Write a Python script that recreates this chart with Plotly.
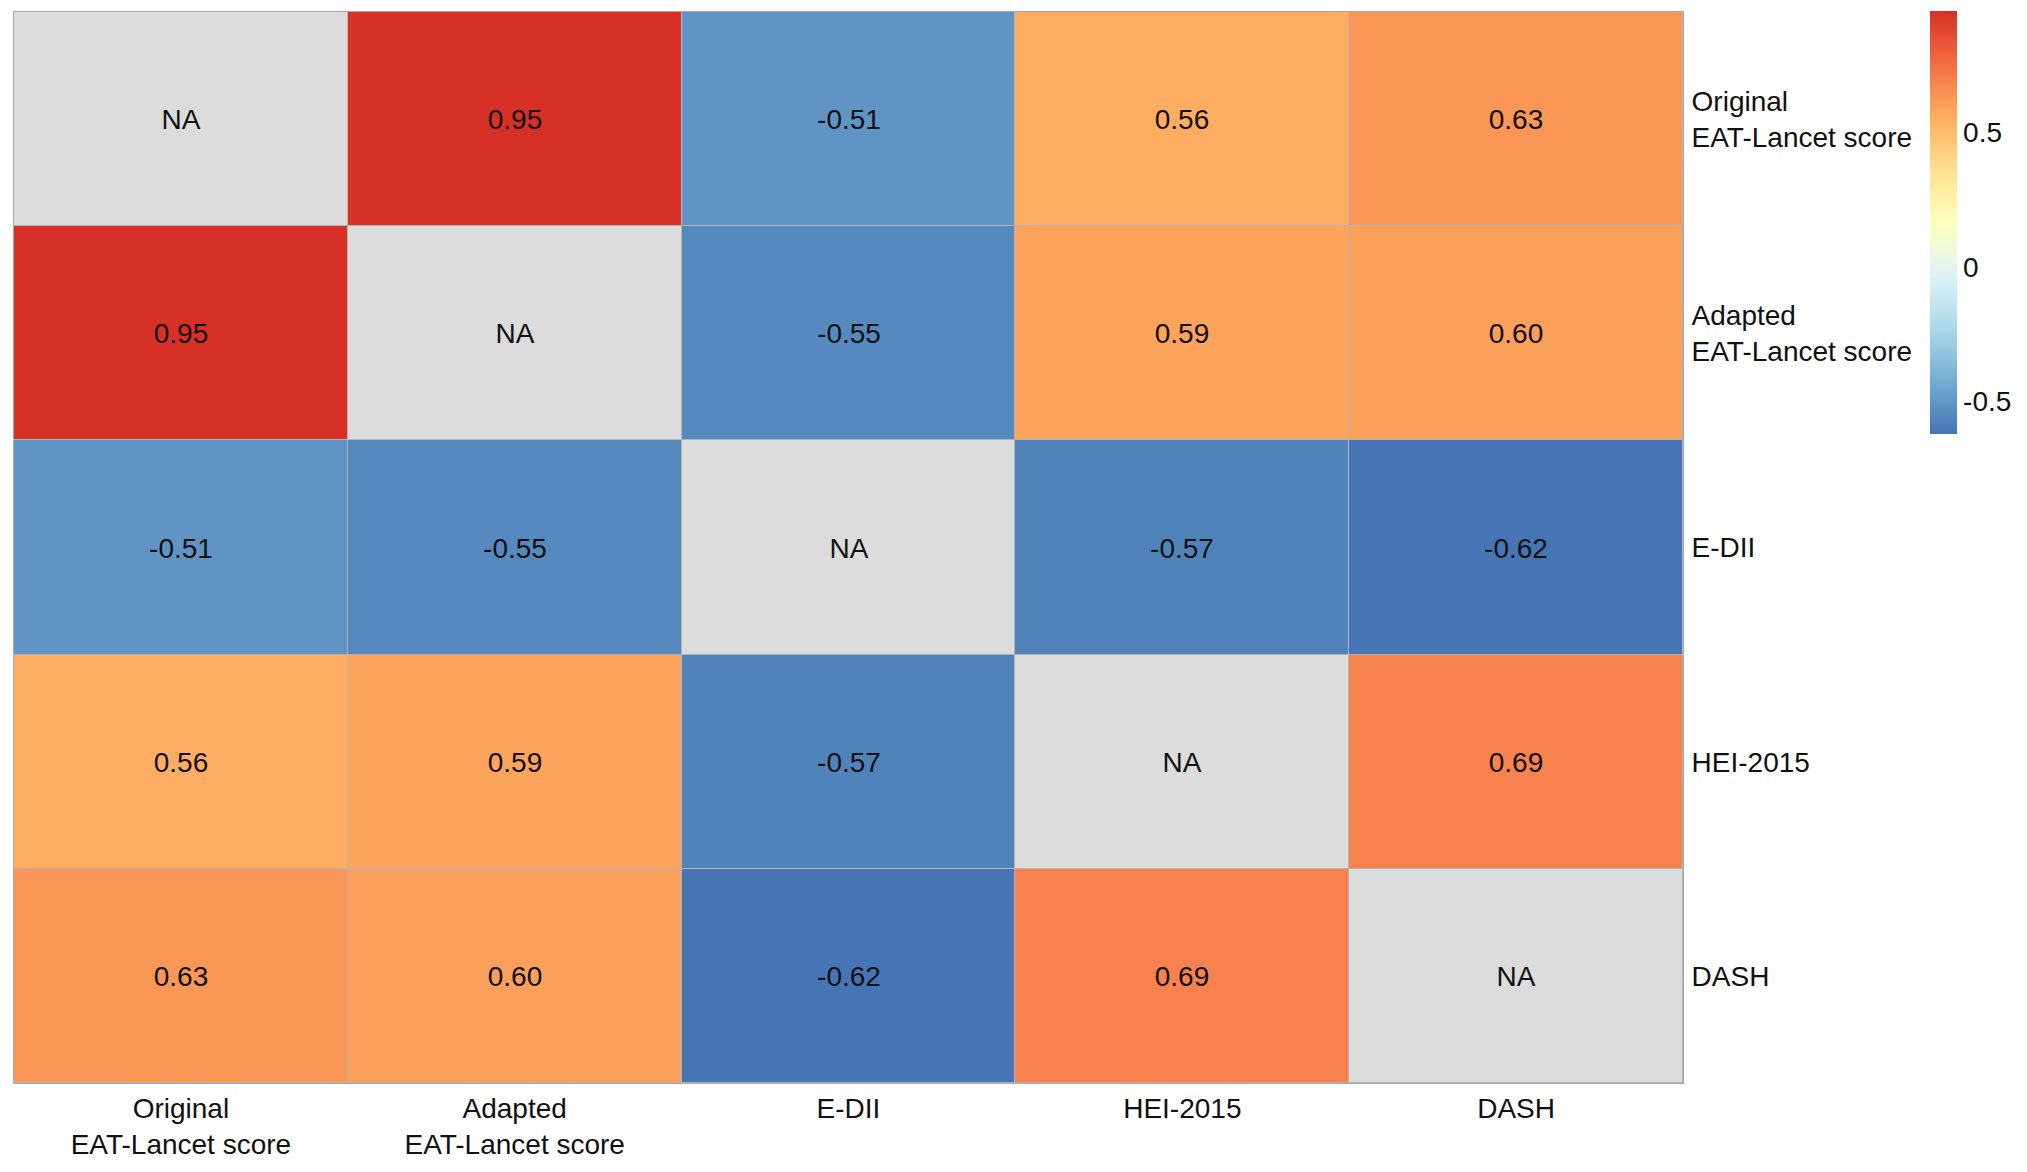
import plotly.graph_objects as go

categories = ["Original EAT-Lancet score", "Adapted EAT-Lancet score", "E-DII", "HEI-2015", "DASH"]
tick_labels = ["Original<br>EAT-Lancet score", "Adapted<br>EAT-Lancet score", "E-DII", "HEI-2015", "DASH"]

row_original = [None, 0.95, -0.51, 0.56, 0.63]
row_adapted = [0.95, None, -0.55, 0.59, 0.60]
row_edii = [-0.51, -0.55, None, -0.57, -0.62]
row_hei = [0.56, 0.59, -0.57, None, 0.69]
row_dash = [0.63, 0.60, -0.62, 0.69, None]
values = [row_original, row_adapted, row_edii, row_hei, row_dash]

cb_ticks = [-0.5, 0, 0.5]
cb_ticktext = ["-0.5", "0", "0.5"]

rdylbu9 = ["#4575B4", "#74ADD1", "#ABD9E9", "#E0F3F8", "#FFFFBF",
           "#FEE090", "#FDAE61", "#F46D43", "#D73027"]
colorscale = [[i / (len(rdylbu9) - 1), c] for i, c in enumerate(rdylbu9)]

na_z = [[1 if v is None else None for v in row] for row in values]
na_text = [["NA" if v is None else "" for v in row] for row in values]
val_text = [["" if v is None else f"{v:.2f}" for v in row] for row in values]

FONT = "Liberation Sans, Arial, sans-serif"
FS = 28
W, H = 2027, 1172

fig = go.Figure()
fig.add_trace(go.Heatmap(
    x=categories, y=categories, z=values,
    zmin=-0.62, zmax=0.95, colorscale=colorscale,
    xgap=1, ygap=1,
    text=val_text, texttemplate="%{text}",
    textfont=dict(size=FS, color="#111111", family=FONT),
    colorbar=dict(
        xref="container", x=1930 / W, xanchor="left",
        yref="container", y=1 - 12 / H, yanchor="top",
        thickness=27, lenmode="pixels", len=423,
        xpad=0, ypad=0, outlinewidth=0,
        tickvals=cb_ticks, ticktext=cb_ticktext, ticks="",
        tickfont=dict(size=FS, color="#111111", family=FONT),
    ),
    hoverongaps=False,
))
fig.add_trace(go.Heatmap(
    x=categories, y=categories, z=na_z,
    colorscale=[[0, "#DCDCDC"], [1, "#DCDCDC"]], showscale=False,
    xgap=1, ygap=1,
    text=na_text, texttemplate="%{text}",
    textfont=dict(size=FS, color="#111111", family=FONT),
    hoverongaps=False,
))

fig.update_layout(
    width=W, height=H,
    margin=dict(l=14, r=W - 1683, t=12, b=H - 1083, pad=0),
    paper_bgcolor="white", plot_bgcolor="#B4B4B4",
    font=dict(family=FONT, size=FS, color="#111111"),
    showlegend=False,
)
fig.update_xaxes(
    tickvals=categories, ticktext=tick_labels, ticks="",
    tickfont=dict(size=FS, color="#111111"),
    showline=True, mirror=True, linecolor="#A8A8A8", linewidth=1,
    showgrid=False, zeroline=False, ticklabelstandoff=0,
)
fig.update_yaxes(
    tickvals=categories, ticktext=tick_labels, ticks="",
    side="right", autorange="reversed",
    tickfont=dict(size=FS, color="#111111"),
    showline=True, mirror=True, linecolor="#A8A8A8", linewidth=1,
    showgrid=False, zeroline=False, ticklabelstandoff=2,
)

fig.write_html("out.html")
